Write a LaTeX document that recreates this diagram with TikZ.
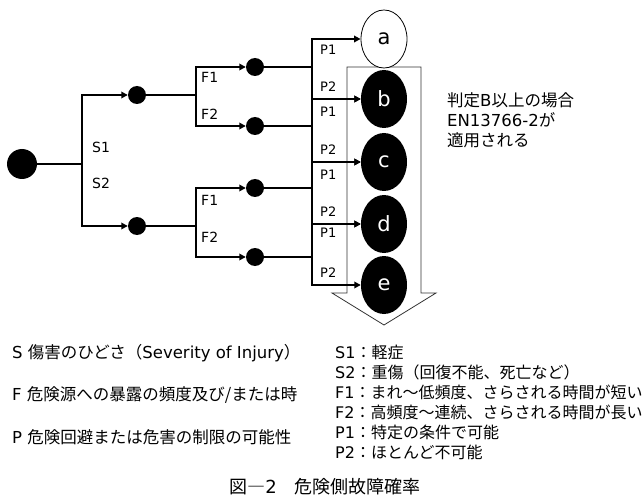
\documentclass[tikz,border=0pt]{standalone}
\usepackage{fontspec}
\setmainfont{DejaVu Sans}
\newfontfamily\jp{Noto Sans CJK JP}
\usetikzlibrary{arrows.meta,shapes.geometric}
\begin{document}
\begin{tikzpicture}[x=1pt,y=-1pt,
 dot/.style={circle,fill=black,inner sep=0,minimum size=18pt},
 bigdot/.style={circle,fill=black,inner sep=0,minimum size=30pt},
 res/.style={ellipse,fill=black,text=white,inner sep=0,minimum width=46pt,minimum height=58pt,font=\fontsize{21}{21}\selectfont},
 resw/.style={res,fill=white,draw=black,line width=0.8pt,text=black},
 br/.style={line width=2.8pt},
 ar/.style={br,-{Triangle[length=6.5pt,width=6.5pt]}},
 lab/.style={anchor=west,inner sep=0,font=\fontsize{14}{14}\selectfont},
 plab/.style={anchor=west,inner sep=0,font=\fontsize{13}{13}\selectfont},
 txt/.style={anchor=west,inner sep=0,font=\fontsize{16.5}{20}\selectfont},
 legl/.style={anchor=west,inner sep=0,font=\fontsize{16.5}{20}\selectfont},
 leg/.style={anchor=west,inner sep=0,font=\fontsize{16}{20}\selectfont},
]
\useasboundingbox (0,0) rectangle (643,500);
% big arrow outline
\draw[line width=0.8pt,draw=black!80] (347,67) -- (347,293) -- (332,293) -- (384,325) -- (436,293) -- (421,293) -- (421,67) -- cycle;
% nodes
\node[bigdot] (r) at (22,164) {};
\coordinate (j0) at (82,164);
\node[dot] (s1) at (137,95) {};
\node[dot] (s2) at (137,226) {};
\coordinate (j1) at (196,95);
\coordinate (j2) at (196,226);
\node[dot] (f11) at (255,67) {};
\node[dot] (f12) at (255,126) {};
\node[dot] (f21) at (255,188) {};
\node[dot] (f22) at (255,257) {};
\coordinate (k1) at (312,67);
\coordinate (k2) at (312,126);
\coordinate (k3) at (312,188);
\coordinate (k4) at (312,257);
\node[resw] (a) at (384,39) {a};
\node[res] (b) at (384,99) {b};
\node[res] (c) at (384,162) {c};
\node[res] (d) at (384,224) {d};
\node[res] (e) at (384,285) {e};
% connectors
\draw[br] (r) -- (j0);
\draw[ar] (j0) |- (s1);
\draw[ar] (j0) |- (s2);
\draw[br] (s1) -- (j1);
\draw[br] (s2) -- (j2);
\draw[ar] (j1) |- (f11);
\draw[ar] (j1) |- (f12);
\draw[ar] (j2) |- (f21);
\draw[ar] (j2) |- (f22);
\draw[br] (f11) -- (k1);
\draw[br] (f12) -- (k2);
\draw[br] (f21) -- (k3);
\draw[br] (f22) -- (k4);
\draw[ar] (k1) |- (a);
\draw[ar] (k1) |- (b);
\draw[ar] (k2) |- (b);
\draw[ar] (k2) |- (c);
\draw[ar] (k3) |- (c);
\draw[ar] (k3) |- (d);
\draw[ar] (k4) |- (d);
\draw[ar] (k4) |- (e);
% labels
\node[lab] (ls1) at (92,147) {S1};
\node[lab] (ls2) at (92,183) {S2};
\node[lab] (lf11) at (201,77) {F1};
\node[lab] (lf12) at (201,114) {F2};
\node[lab] (lf21) at (201,200) {F1};
\node[lab] (lf22) at (201,237) {F2};
\node[plab] (p1) at (320,50) {P1};
\node[plab] (p2) at (320,87) {P2};
\node[plab] (p3) at (320,112) {P1};
\node[plab] (p4) at (320,150) {P2};
\node[plab] (p5) at (320,175) {P1};
\node[plab] (p6) at (320,212) {P2};
\node[plab] (p7) at (320,233) {P1};
\node[plab] (p8) at (320,273) {P2};
% side note
\node[txt] (n1) at (447,100) {{\jp 判定}B{\jp 以上の場合}};
\node[txt] (n2) at (447,120) {EN13766-2{\jp が}};
\node[txt] (n3) at (447,140) {{\jp 適用される}};
% legend
\node[legl] (l1) at (12,353) {S {\jp 傷害のひどさ（}Severity of Injury{\jp ）}};
\node[legl] (l2) at (12,395) {F {\jp 危険源への暴露の頻度及び/または時}};
\node[legl] (l3) at (12,437) {P {\jp 危険回避または危害の制限の可能性}};
\node[leg] (m1) at (335,352) {S1{\jp ：軽症}};
\node[leg] (m2) at (335,372) {S2{\jp ：重傷（回復不能、死亡など）}};
\node[leg] (m3) at (335,392) {F1{\jp ：まれ～低頻度、さらされる時間が短い}};
\node[leg] (m4) at (335,412) {F2{\jp ：高頻度～連続、さらされる時間が長い}};
\node[leg] (m5) at (335,432) {P1{\jp ：特定の条件で可能}};
\node[leg] (m6) at (335,452) {P2{\jp ：ほとんど不可能}};
\node[inner sep=0,font=\fontsize{18}{20}\selectfont] (cap) at (325,487) {{\jp 図―}2{\jp 　危険側故障確率}};
\end{tikzpicture}
\end{document}
